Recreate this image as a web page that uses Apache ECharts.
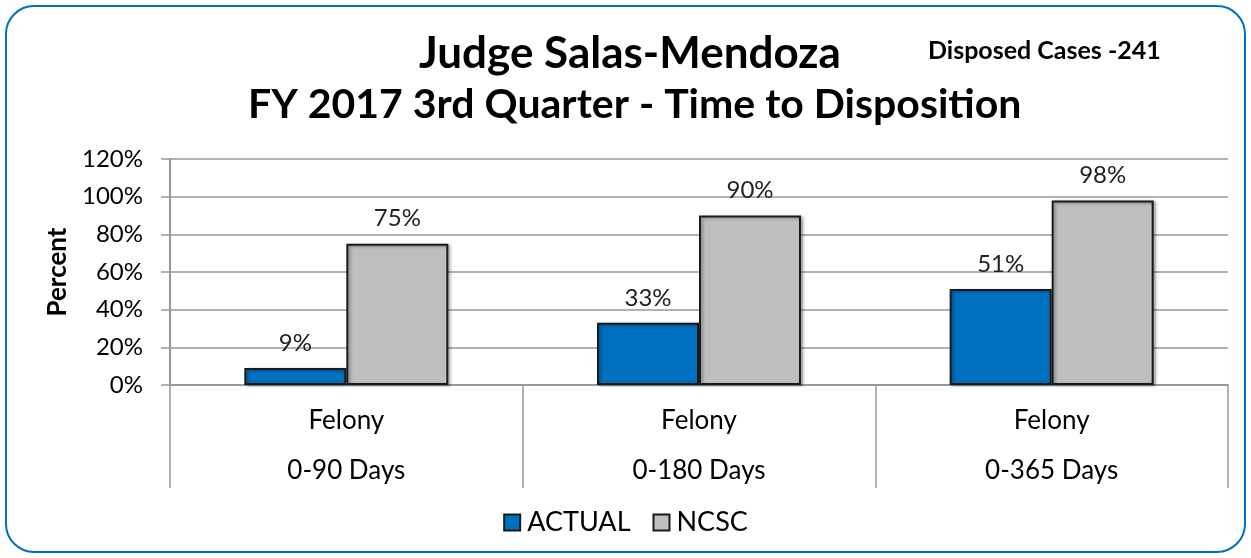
<!DOCTYPE html>
<html>
<head>
<meta charset="utf-8">
<script src="https://cdn.jsdelivr.net/npm/echarts@6/dist/echarts.min.js"></script>
<style>
    html, body { margin: 0; padding: 0; background: #fff; }
    #chart1 { width: 1251px; height: 558px; }
</style>
</head>
<body>
<div id="chart1"></div>
<script>
// 数据
var caseTypes = ['Felony', 'Felony', 'Felony'];
var dayRanges = ['0-90 Days', '0-180 Days', '0-365 Days'];
var actualData = [9, 33, 51];
var ncscData = [75, 90, 98];
var yTicks = [0, 20, 40, 60, 80, 100, 120];

var chart1 = echarts.init(document.getElementById('chart1'));
var font = 'Lato';

var barStyle = function (color) {
    return {
        color: color,
        borderColor: '#1a1a1a',
        borderWidth: 2,
        shadowColor: 'rgba(0,0,0,0.35)',
        shadowBlur: 3,
        shadowOffsetX: 2,
        shadowOffsetY: 1
    };
};

var barLabel = {
    show: true,
    position: 'top',
    distance: 13,
    formatter: '{c}%',
    fontFamily: font,
    fontSize: 24,
    color: '#222'
};

var option = {
    animation: false,
    backgroundColor: '#fff',
    textStyle: { fontFamily: font },
    graphic: [{
        type: 'rect',
        shape: { x: 6, y: 6, width: 1239, height: 546, r: 28 },
        style: { fill: 'none', stroke: '#0070C0', lineWidth: 2 }
    }],
    title: [{
        text: 'Judge Salas-Mendoza',
        left: 414,
        top: 27,
        textStyle: { fontFamily: font, fontSize: 44, fontWeight: 'bold', color: '#000' }
    }, {
        text: 'FY 2017 3rd Quarter - Time to Disposition',
        left: 243,
        top: 79,
        textStyle: { fontFamily: font, fontSize: 41, fontWeight: 'bold', color: '#000' }
    }, {
        text: 'Disposed Cases -241',
        left: 923,
        top: 33,
        textStyle: { fontFamily: font, fontSize: 25, fontWeight: 'bold', color: '#000' }
    }],
    legend: {
        bottom: 17,
        left: 'center',
        icon: 'rect',
        itemWidth: 16,
        itemHeight: 16,
        itemGap: 22,
        textStyle: { fontFamily: font, fontSize: 27, color: '#000', padding: [0, 0, 0, 2] },
        data: ['ACTUAL', 'NCSC']
    },
    grid: { left: 170, right: 23, top: 159, bottom: 173 },
    xAxis: {
        type: 'category',
        data: dayRanges,
        axisLine: { lineStyle: { color: '#999', width: 2 } },
        axisTick: { show: true, interval: 0, length: 103, lineStyle: { color: '#999', width: 1.5 } },
        axisLabel: {
            interval: 0,
            margin: 11,
            formatter: function (value, idx) {
                return '{a|' + caseTypes[idx] + '}\n{b|' + value + '}';
            },
            rich: {
                a: { fontFamily: font, fontSize: 26, color: '#000', lineHeight: 50 },
                b: { fontFamily: font, fontSize: 26, color: '#000', lineHeight: 50 }
            }
        }
    },
    yAxis: {
        type: 'value',
        min: yTicks[0],
        max: yTicks[yTicks.length - 1],
        interval: 20,
        name: 'Percent',
        nameLocation: 'middle',
        nameGap: 97,
        nameTextStyle: { fontFamily: font, fontSize: 26, fontWeight: 'bold', color: '#000' },
        axisLine: { show: true, lineStyle: { color: '#999', width: 2 } },
        axisTick: { show: true, length: 9, lineStyle: { color: '#999', width: 1.5 } },
        axisLabel: {
            margin: 27,
            fontFamily: font,
            fontSize: 24,
            color: '#000',
            formatter: '{value}%'
        },
        splitLine: { lineStyle: { color: '#999', width: 1.5 } }
    },
    series: [{
        name: 'ACTUAL',
        type: 'bar',
        data: actualData,
        barWidth: 102,
        barGap: '0%',
        itemStyle: barStyle('#0070C0'),
        label: barLabel
    }, {
        name: 'NCSC',
        type: 'bar',
        data: ncscData,
        barWidth: 102,
        itemStyle: barStyle('#BFBFBF'),
        label: barLabel
    }]
};
chart1.setOption(option);
</script>
</body>
</html>
